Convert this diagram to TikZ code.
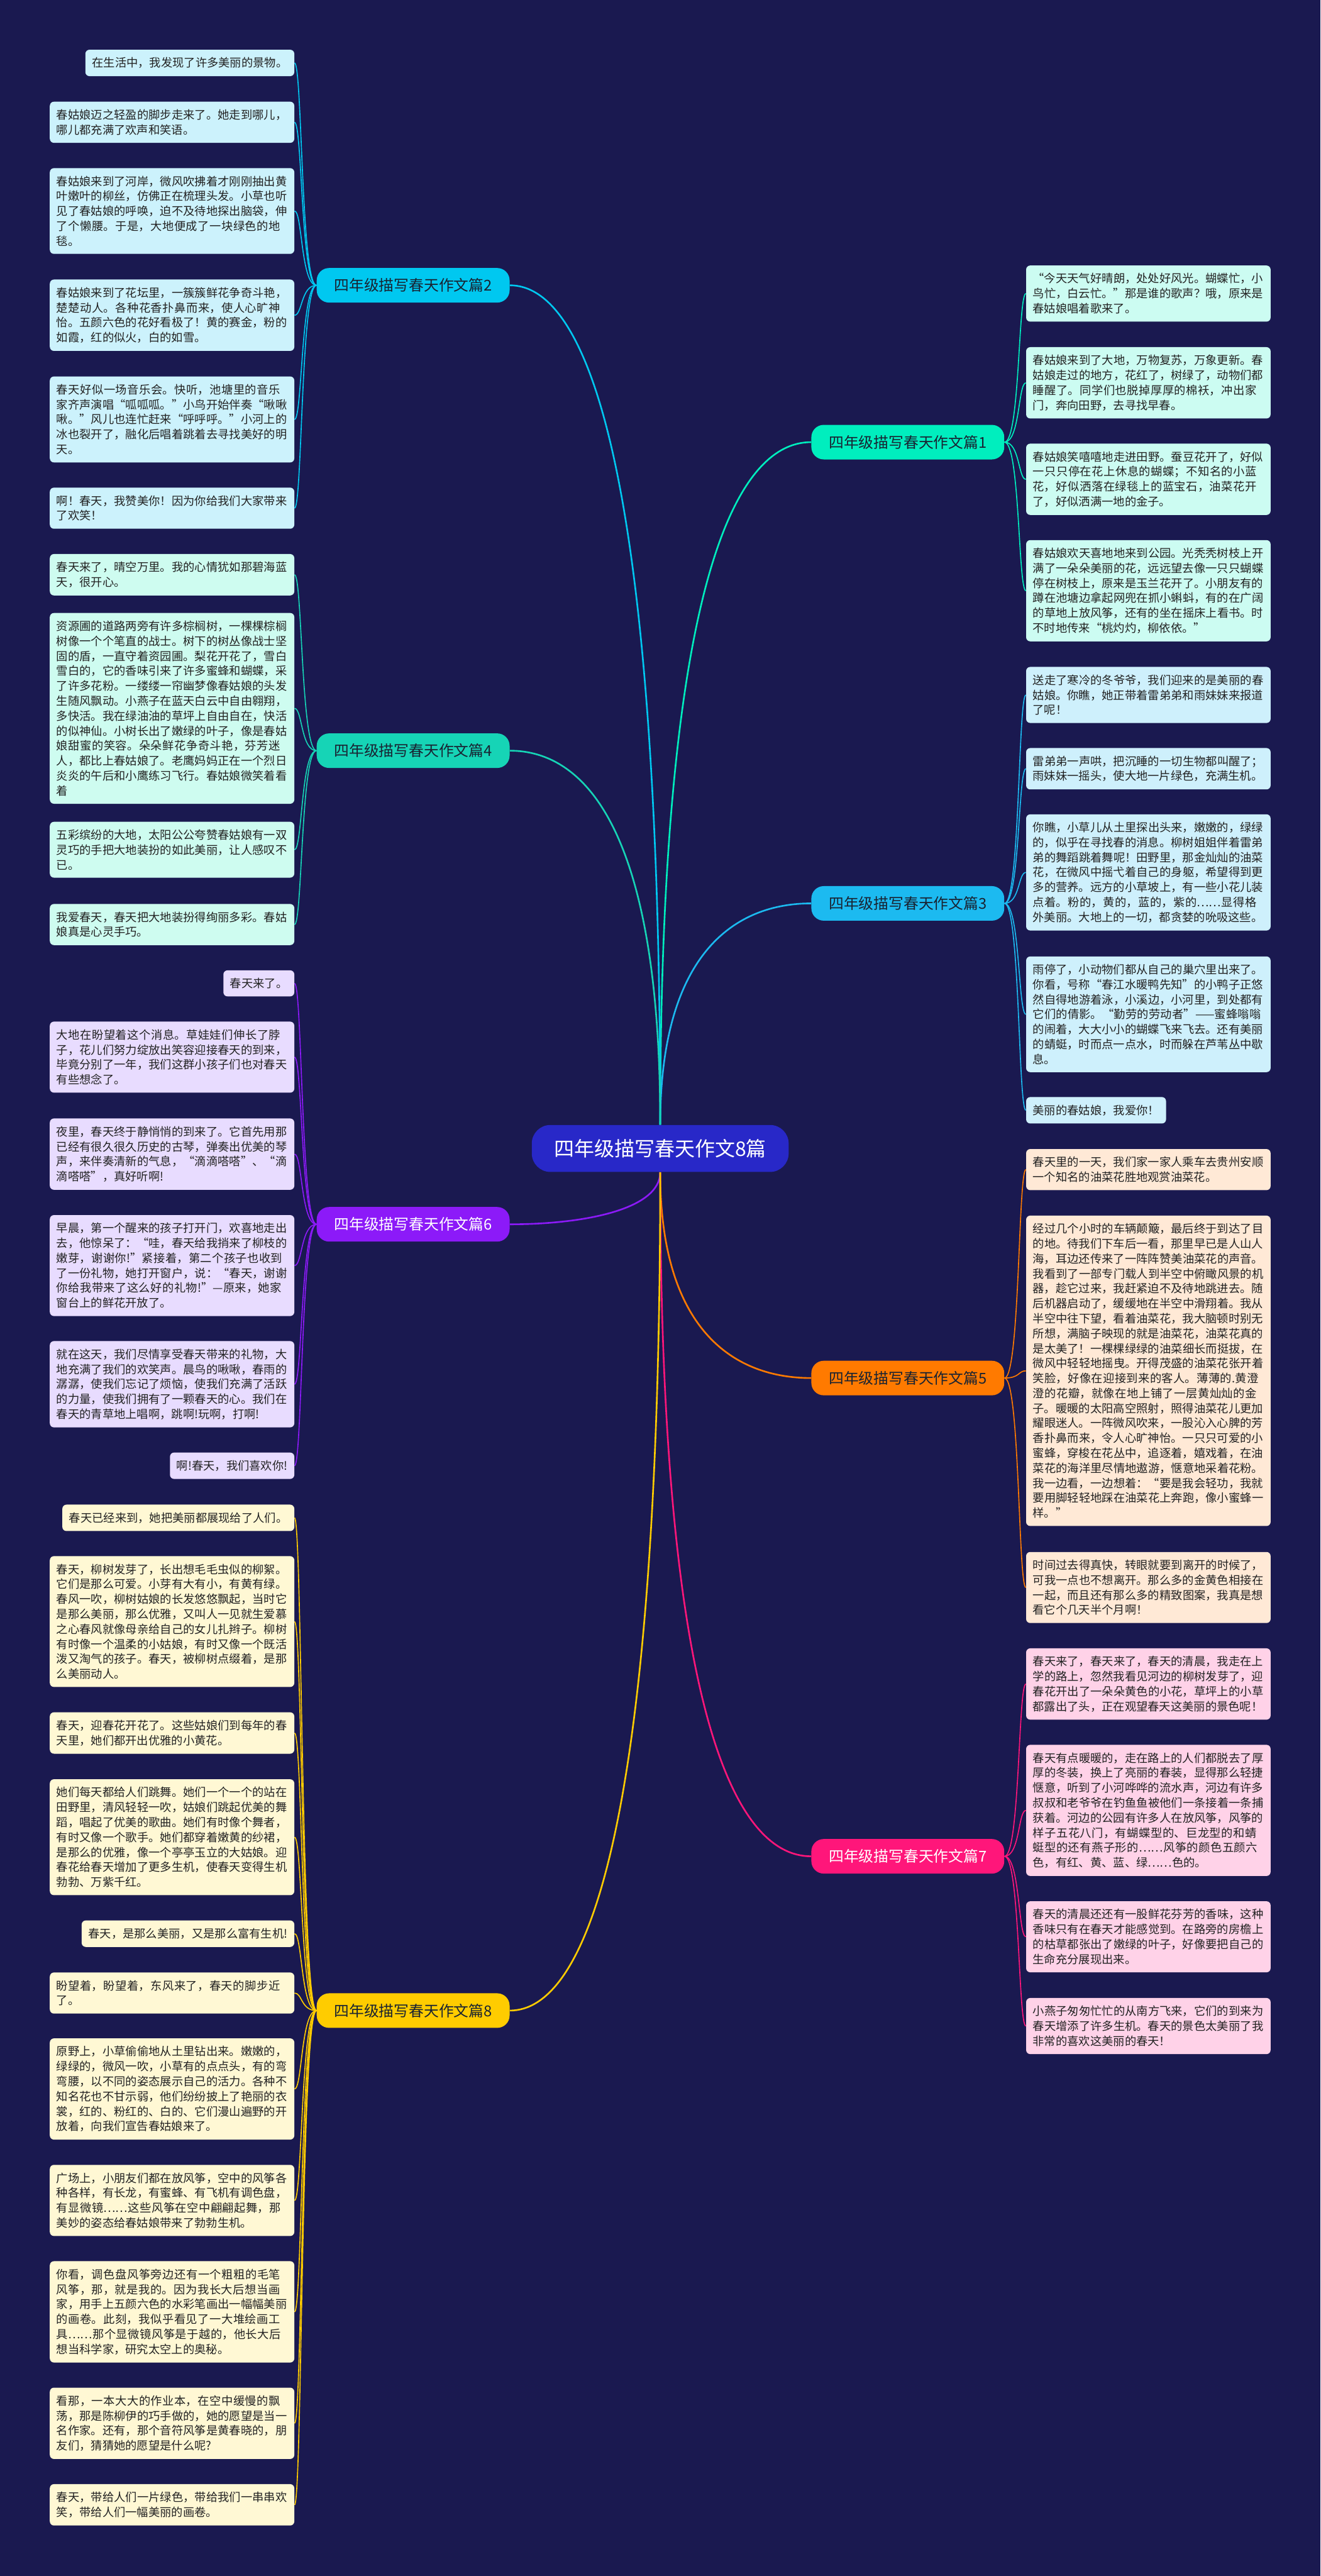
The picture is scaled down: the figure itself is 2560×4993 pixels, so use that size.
\documentclass[tikz,border=0pt]{standalone}
\usepackage{fontspec}
\setmainfont{Noto Sans CJK SC}
\XeTeXlinebreaklocale "zh"
\XeTeXlinebreakskip=0pt plus 1pt
\usetikzlibrary{calc,positioning}
\pgfdeclarelayer{background}
\pgfsetlayers{background,main}

\definecolor{night}{RGB}{26,25,80}
\definecolor{ink}{RGB}{34,34,34}
\definecolor{tagink}{RGB}{25,35,50}
\definecolor{rootblue}{RGB}{40,40,200}
\definecolor{c1}{RGB}{0,238,190}   \definecolor{f1}{RGB}{204,252,242}
\definecolor{c2}{RGB}{0,200,240}   \definecolor{f2}{RGB}{204,242,252}
\definecolor{c3}{RGB}{28,186,240}  \definecolor{f3}{RGB}{206,240,252}
\definecolor{c4}{RGB}{22,212,182}  \definecolor{f4}{RGB}{206,252,240}
\definecolor{c5}{RGB}{255,122,0}   \definecolor{f5}{RGB}{255,233,214}
\definecolor{c6}{RGB}{140,26,248}  \definecolor{f6}{RGB}{232,220,255}
\definecolor{c7}{RGB}{255,22,122}  \definecolor{f7}{RGB}{255,210,232}
\definecolor{c8}{RGB}{255,204,0}   \definecolor{f8}{RGB}{255,248,212}

\newcommand\leaffont{\fontsize{11.15}{14.5}\selectfont}
\newcommand\tagfont{\fontsize{14.5}{17}\selectfont}
\newcommand\rootfont{\fontsize{19.5}{23}\selectfont}

\tikzset{
    %Define style for text boxes
    leaf/.style={
           rounded corners=4pt,
           inner xsep=6.5pt, inner ysep=7.5pt,
           font=\leaffont, text=ink,
           align=left},
    wide/.style={leaf, text width=224pt},
    % left and right columns
    lft/.style={anchor=east},
    rgt/.style={anchor=west},
    % Define style for branch labels
    tag/.style={
           rounded corners=12pt,
           minimum width=187pt, minimum height=33.5pt,
           inner sep=0pt,
           font=\tagfont, text=tagink},
    % Define connector styles
    trunk/.style={line width=1.6pt},
    twig/.style={line width=1pt}
}

\begin{document}
\begin{tikzpicture}[x=0.5pt, y=-0.5pt]
\useasboundingbox (0,0) rectangle (2560,4993);

%root and branches
\node[rounded corners=18pt, fill=rootblue, text=white, font=\rootfont,
      minimum width=249pt, minimum height=45.5pt] (root) at (1280,2226) {四年级描写春天作文8篇};
\node[tag, fill=c1] (p1) at (1760,857) {四年级描写春天作文篇1};
\node[tag, fill=c2] (p2) at (801,553) {四年级描写春天作文篇2};
\node[tag, fill=c3] (p3) at (1760,1751) {四年级描写春天作文篇3};
\node[tag, fill=c4] (p4) at (801,1455) {四年级描写春天作文篇4};
\node[tag, fill=c5] (p5) at (1760,2671) {四年级描写春天作文篇5};
\node[tag, fill=c6, text=white] (p6) at (801,2373) {四年级描写春天作文篇6};
\node[tag, fill=c7, text=white] (p7) at (1760,3598) {四年级描写春天作文篇7};
\node[tag, fill=c8] (p8) at (801,3897) {四年级描写春天作文篇8};

%leaves of 篇2
\node[leaf, lft, fill=f2] (p2a) at (571,122) {在生活中，我发现了许多美丽的景物。};
\node[wide, lft, fill=f2] (p2b) at (571,237) {春姑娘迈之轻盈的脚步走来了。她走到哪儿，哪儿都充满了欢声和笑语。};
\node[wide, lft, fill=f2] (p2c) at (571,409) {春姑娘来到了河岸，微风吹拂着才刚刚抽出黄叶嫩叶的柳丝，仿佛正在梳理头发。小草也听见了春姑娘的呼唤，迫不及待地探出脑袋，伸了个懒腰。于是，大地便成了一块绿色的地毯。};
\node[wide, lft, fill=f2] (p2d) at (571,611) {春姑娘来到了花坛里，一簇簇鲜花争奇斗艳，楚楚动人。各种花香扑鼻而来，使人心旷神怡。五颜六色的花好看极了！黄的赛金，粉的如霞，红的似火，白的如雪。};
\node[wide, lft, fill=f2] (p2e) at (571,813) {春天好似一场音乐会。快听，池塘里的音乐家齐声演唱“呱呱呱。”小鸟开始伴奏“啾啾啾。”风儿也连忙赶来“呼呼呼。”小河上的冰也裂开了，融化后唱着跳着去寻找美好的明天。};
\node[wide, lft, fill=f2] (p2f) at (571,985) {啊！春天，我赞美你！因为你给我们大家带来了欢笑！};

%leaves of 篇4
\node[wide, lft, fill=f4] (p4a) at (571,1114) {春天来了，晴空万里。我的心情犹如那碧海蓝天，很开心。};
\node[wide, lft, fill=f4] (p4b) at (571,1373) {资源圃的道路两旁有许多棕榈树，一棵棵棕榈树像一个个笔直的战士。树下的树丛像战士坚固的盾，一直守着资园圃。梨花开花了，雪白雪白的，它的香味引来了许多蜜蜂和蝴蝶，采了许多花粉。一缕缕一帘幽梦像春姑娘的头发生随风飘动。小燕子在蓝天白云中自由翱翔，多快活。我在绿油油的草坪上自由自在，快活的似神仙。小树长出了嫩绿的叶子，像是春姑娘甜蜜的笑容。朵朵鲜花争奇斗艳，芬芳迷人，都比上春姑娘了。老鹰妈妈正在一个烈日炎炎的午后和小鹰练习飞行。春姑娘微笑着看着};
\node[wide, lft, fill=f4] (p4c) at (571,1647) {五彩缤纷的大地，太阳公公夸赞春姑娘有一双灵巧的手把大地装扮的如此美丽，让人感叹不已。};
\node[wide, lft, fill=f4] (p4d) at (571,1792) {我爱春天，春天把大地装扮得绚丽多彩。春姑娘真是心灵手巧。};

%leaves of 篇6
\node[leaf, lft, fill=f6] (p6a) at (571,1906) {春天来了。};
\node[wide, lft, fill=f6] (p6b) at (571,2049) {大地在盼望着这个消息。草娃娃们伸长了脖子，花儿们努力绽放出笑容迎接春天的到来，毕竟分别了一年，我们这群小孩子们也对春天有些想念了。};
\node[wide, lft, fill=f6] (p6c) at (571,2237) {夜里，春天终于静悄悄的到来了。它首先用那已经有很久很久历史的古琴，弹奏出优美的琴声，来伴奏清新的气息，“滴滴嗒嗒”、“滴滴嗒嗒”，真好听啊!};
\node[wide, lft, fill=f6] (p6d) at (571,2453) {早晨，第一个醒来的孩子打开门，欢喜地走出去，他惊呆了：“哇，春天给我捎来了柳枝的嫩芽，谢谢你!”紧接着，第二个孩子也收到了一份礼物，她打开窗户，说：“春天，谢谢你给我带来了这么好的礼物!”—原来，她家窗台上的鲜花开放了。};
\node[wide, lft, fill=f6] (p6e) at (571,2683) {就在这天，我们尽情享受春天带来的礼物，大地充满了我们的欢笑声。晨鸟的啾啾，春雨的潺潺，使我们忘记了烦恼，使我们充满了活跃的力量，使我们拥有了一颗春天的心。我们在春天的青草地上唱啊，跳啊!玩啊，打啊!};
\node[leaf, lft, fill=f6] (p6f) at (571,2841) {啊!春天，我们喜欢你!};

%leaves of 篇8
\node[leaf, lft, fill=f8] (p8a) at (571,2942) {春天已经来到，她把美丽都展现给了人们。};
\node[wide, lft, fill=f8] (p8b) at (571,3143) {春天，柳树发芽了，长出想毛毛虫似的柳絮。它们是那么可爱。小芽有大有小，有黄有绿。春风一吹，柳树姑娘的长发悠悠飘起，当时它是那么美丽，那么优雅，又叫人一见就生爱慕之心春风就像母亲给自己的女儿扎辫子。柳树有时像一个温柔的小姑娘，有时又像一个既活泼又淘气的孩子。春天，被柳树点缀着，是那么美丽动人。};
\node[wide, lft, fill=f8] (p8c) at (571,3359) {春天，迎春花开花了。这些姑娘们到每年的春天里，她们都开出优雅的小黄花。};
\node[wide, lft, fill=f8] (p8d) at (571,3561) {她们每天都给人们跳舞。她们一个一个的站在田野里，清风轻轻一吹，姑娘们跳起优美的舞蹈，唱起了优美的歌曲。她们有时像个舞者，有时又像一个歌手。她们都穿着嫩黄的纱裙，是那么的优雅，像一个亭亭玉立的大姑娘。迎春花给春天增加了更多生机，使春天变得生机勃勃、万紫千红。};
\node[leaf, lft, fill=f8] (p8e) at (571,3748) {春天，是那么美丽，又是那么富有生机!};
\node[wide, lft, fill=f8] (p8f) at (571,3863) {盼望着，盼望着，东风来了，春天的脚步近了。};
\node[wide, lft, fill=f8] (p8g) at (571,4049) {原野上，小草偷偷地从土里钻出来。嫩嫩的，绿绿的，微风一吹，小草有的点点头，有的弯弯腰，以不同的姿态展示自己的活力。各种不知名花也不甘示弱，他们纷纷披上了艳丽的衣裳，红的、粉红的、白的、它们漫山遍野的开放着，向我们宣告春姑娘来了。};
\node[wide, lft, fill=f8] (p8h) at (571,4265) {广场上，小朋友们都在放风筝，空中的风筝各种各样，有长龙，有蜜蜂、有飞机有调色盘，有显微镜……这些风筝在空中翩翩起舞，那美妙的姿态给春姑娘带来了勃勃生机。};
\node[wide, lft, fill=f8] (p8i) at (571,4481) {你看，调色盘风筝旁边还有一个粗粗的毛笔风筝，那，就是我的。因为我长大后想当画家，用手上五颜六色的水彩笔画出一幅幅美丽的画卷。此刻，我似乎看见了一大堆绘画工具……那个显微镜风筝是于越的，他长大后想当科学家，研究太空上的奥秘。};
\node[wide, lft, fill=f8] (p8j) at (571,4697) {看那，一本大大的作业本，在空中缓慢的飘荡，那是陈柳伊的巧手做的，她的愿望是当一名作家。还有，那个音符风筝是黄春晓的，朋友们，猜猜她的愿望是什么呢?};
\node[wide, lft, fill=f8] (p8k) at (571,4855) {春天，带给人们一片绿色，带给我们一串串欢笑，带给人们一幅美丽的画卷。};

%leaves of 篇1
\node[wide, rgt, fill=f1] (p1a) at (1989,569) {“今天天气好晴朗，处处好风光。蝴蝶忙，小鸟忙，白云忙。”那是谁的歌声？哦，原来是春姑娘唱着歌来了。};
\node[wide, rgt, fill=f1] (p1b) at (1989,742) {春姑娘来到了大地，万物复苏，万象更新。春姑娘走过的地方，花红了，树绿了，动物们都睡醒了。同学们也脱掉厚厚的棉袄，冲出家门，奔向田野，去寻找早春。};
\node[wide, rgt, fill=f1] (p1c) at (1989,929) {春姑娘笑嘻嘻地走进田野。蚕豆花开了，好似一只只停在花上休息的蝴蝶；不知名的小蓝花，好似洒落在绿毯上的蓝宝石，油菜花开了，好似洒满一地的金子。};
\node[wide, rgt, fill=f1] (p1d) at (1989,1145) {春姑娘欢天喜地地来到公园。光秃秃树枝上开满了一朵朵美丽的花，远远望去像一只只蝴蝶停在树枝上，原来是玉兰花开了。小朋友有的蹲在池塘边拿起网兜在抓小蝌蚪，有的在广阔的草地上放风筝，还有的坐在摇床上看书。时不时地传来“桃灼灼，柳依依。”};

%leaves of 篇3
\node[wide, rgt, fill=f3] (p3a) at (1989,1347) {送走了寒冷的冬爷爷，我们迎来的是美丽的春姑娘。你瞧，她正带着雷弟弟和雨妹妹来报道了呢！};
\node[wide, rgt, fill=f3] (p3b) at (1989,1490) {雷弟弟一声哄，把沉睡的一切生物都叫醒了；雨妹妹一摇头，使大地一片绿色，充满生机。};
\node[wide, rgt, fill=f3] (p3c) at (1989,1691) {你瞧，小草儿从土里探出头来，嫩嫩的，绿绿的，似乎在寻找春的消息。柳树姐姐伴着雷弟弟的舞蹈跳着舞呢！田野里，那金灿灿的油菜花，在微风中摇弋着自己的身躯，希望得到更多的营养。远方的小草坡上，有一些小花儿装点着。粉的，黄的，蓝的，紫的……显得格外美丽。大地上的一切，都贪婪的吮吸这些。};
\node[wide, rgt, fill=f3] (p3d) at (1989,1966) {雨停了，小动物们都从自己的巢穴里出来了。你看，号称“春江水暖鸭先知”的小鸭子正悠然自得地游着泳，小溪边，小河里，到处都有它们的倩影。“勤劳的劳动者”——蜜蜂嗡嗡的闹着，大大小小的蝴蝶飞来飞去。还有美丽的蜻蜓，时而点一点水，时而躲在芦苇丛中歇息。};
\node[leaf, rgt, fill=f3] (p3e) at (1989,2152) {美丽的春姑娘，我爱你！};

%leaves of 篇5
\node[wide, rgt, fill=f5] (p5a) at (1989,2267) {春天里的一天，我们家一家人乘车去贵州安顺一个知名的油菜花胜地观赏油菜花。};
\node[wide, rgt, fill=f5] (p5b) at (1989,2657) {经过几个小时的车辆颠簸，最后终于到达了目的地。待我们下车后一看，那里早已是人山人海，耳边还传来了一阵阵赞美油菜花的声音。我看到了一部专门载人到半空中俯瞰风景的机器，趁它过来，我赶紧迫不及待地跳进去。随后机器启动了，缓缓地在半空中滑翔着。我从半空中往下望，看着油菜花，我大脑顿时别无所想，满脑子映现的就是油菜花，油菜花真的是太美了！一棵棵绿绿的油菜细长而挺拔，在微风中轻轻地摇曳。开得茂盛的油菜花张开着笑脸，好像在迎接到来的客人。薄薄的.黄澄澄的花瓣，就像在地上铺了一层黄灿灿的金子。暖暖的太阳高空照射，照得油菜花儿更加耀眼迷人。一阵微风吹来，一股沁入心脾的芳香扑鼻而来，令人心旷神怡。一只只可爱的小蜜蜂，穿梭在花丛中，追逐着，嬉戏着，在油菜花的海洋里尽情地遨游，惬意地采着花粉。我一边看，一边想着：“要是我会轻功，我就要用脚轻轻地踩在油菜花上奔跑，像小蜜蜂一样。”};
\node[wide, rgt, fill=f5] (p5c) at (1989,3077) {时间过去得真快，转眼就要到离开的时候了，可我一点也不想离开。那么多的金黄色相接在一起，而且还有那么多的精致图案，我真是想看它个几天半个月啊！};

%leaves of 篇7
\node[wide, rgt, fill=f7] (p7a) at (1989,3264) {春天来了，春天来了，春天的清晨，我走在上学的路上，忽然我看见河边的柳树发芽了，迎春花开出了一朵朵黄色的小花，草坪上的小草都露出了头，正在观望春天这美丽的景色呢！};
\node[wide, rgt, fill=f7] (p7b) at (1989,3509) {春天有点暖暖的，走在路上的人们都脱去了厚厚的冬装，换上了亮丽的春装，显得那么轻捷惬意，听到了小河哗哗的流水声，河边有许多叔叔和老爷爷在钓鱼鱼被他们一条接着一条捕获着。河边的公园有许多人在放风筝，风筝的样子五花八门，有蝴蝶型的、巨龙型的和蜻蜓型的还有燕子形的……风筝的颜色五颜六色，有红、黄、蓝、绿……色的。};
\node[wide, rgt, fill=f7] (p7c) at (1989,3754) {春天的清晨还还有一股鲜花芬芳的香味，这种香味只有在春天才能感觉到。在路旁的房檐上的枯草都张出了嫩绿的叶子，好像要把自己的生命充分展现出来。};
\node[wide, rgt, fill=f7] (p7d) at (1989,3927) {小燕子匆匆忙忙的从南方飞来，它们的到来为春天增添了许多生机。春天的景色太美丽了我非常的喜欢这美丽的春天！};

\begin{pgfonlayer}{background}
  \fill[night] (0,0) rectangle (2560,4993);
  %root to branches
  \foreach \n/\a in {1/west,3/west,5/west,7/west,2/east,4/east,6/east,8/east}
    \draw[trunk, c\n] (p\n.\a) .. controls ($(p\n.\a)!.5!(p\n.\a -| root)$)
                       and ($(p\n.\a -| root)!.2!(root)$) .. (root);
  %branches to leaves
  \foreach \x in {p2a,p2b,p2c,p2d,p2e,p2f}
    \draw[twig, c2] (p2.west) .. controls +(-15pt,0) and +(7.5pt,0) .. (\x.east);
  \foreach \x in {p4a,p4b,p4c,p4d}
    \draw[twig, c4] (p4.west) .. controls +(-15pt,0) and +(7.5pt,0) .. (\x.east);
  \foreach \x in {p6a,p6b,p6c,p6d,p6e,p6f}
    \draw[twig, c6] (p6.west) .. controls +(-15pt,0) and +(7.5pt,0) .. (\x.east);
  \foreach \x in {p8a,p8b,p8c,p8d,p8e,p8f,p8g,p8h,p8i,p8j,p8k}
    \draw[twig, c8] (p8.west) .. controls +(-15pt,0) and +(7.5pt,0) .. (\x.east);
  \foreach \x in {p1a,p1b,p1c,p1d}
    \draw[twig, c1] (p1.east) .. controls +(15pt,0) and +(-7.5pt,0) .. (\x.west);
  \foreach \x in {p3a,p3b,p3c,p3d,p3e}
    \draw[twig, c3] (p3.east) .. controls +(15pt,0) and +(-7.5pt,0) .. (\x.west);
  \foreach \x in {p5a,p5b,p5c}
    \draw[twig, c5] (p5.east) .. controls +(15pt,0) and +(-7.5pt,0) .. (\x.west);
  \foreach \x in {p7a,p7b,p7c,p7d}
    \draw[twig, c7] (p7.east) .. controls +(15pt,0) and +(-7.5pt,0) .. (\x.west);
\end{pgfonlayer}
\end{tikzpicture}
\end{document}
